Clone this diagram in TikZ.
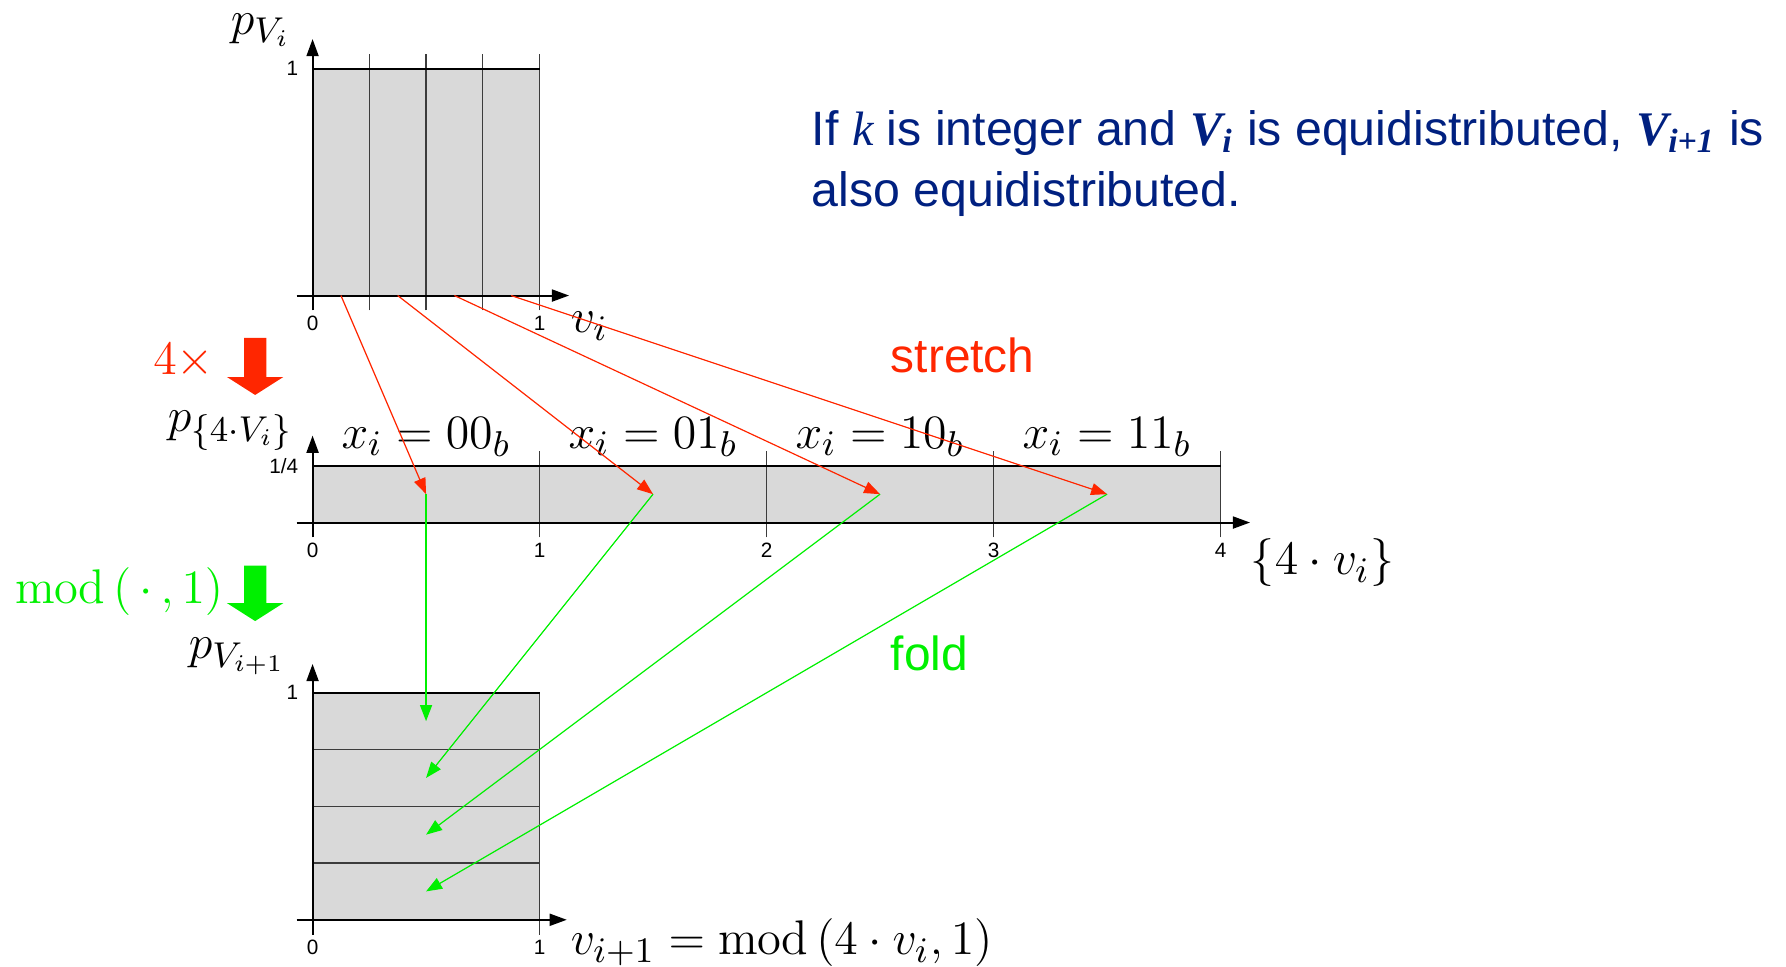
\documentclass[tikz,border=0pt]{standalone}
\usepackage{amsmath}
\usepackage{fontspec}
\setsansfont{Liberation Sans}
\newfontfamily\timesfont{Liberation Serif}
\usepackage{tikz}
\usetikzlibrary{arrows.meta}
\definecolor{stretchRed}{RGB}{255,38,0}
\definecolor{foldGreen}{RGB}{0,240,0}
\definecolor{noteBlue}{RGB}{0,32,128}
\definecolor{boxGray}{RGB}{217,217,217}
\definecolor{sepGray}{RGB}{60,60,60}
\tikzset{
  edgeline/.style={line width=0.5pt, draw=black},
  sepline/.style={line width=0.3pt, draw=sepGray},
  axis/.style={line width=0.5pt, -{Triangle[length=4.3pt,width=3pt]}},
  ticklabel/.style={font=\sffamily\fontsize{5.2}{6}\selectfont, inner sep=0pt},
  mathlabel/.style={font=\fontsize{12.2}{14}\selectfont, inner sep=0pt},
  flowlabel/.style={font=\sffamily\fontsize{12}{15}\selectfont, inner sep=0pt},
  note/.style={font=\sffamily\fontsize{12.1}{15.3}\selectfont, text=noteBlue, inner sep=0pt, align=left},
  stretchflow/.style={-{Triangle[length=4pt,width=3pt]}, line width=0.3pt, draw=stretchRed, fill=stretchRed},
  foldflow/.style={-{Triangle[length=4pt,width=3pt]}, line width=0.3pt, draw=foldGreen, fill=foldGreen}
}
\begin{document}
\begin{tikzpicture}[x=2cm, y=2cm]
        \useasboundingbox (-1.377,1.302) rectangle (6.491,-2.958);
        \fill[boxGray] (0,0) rectangle (1,1);
        \fill[boxGray] (0,-1) rectangle (4,-0.75);
        \fill[boxGray] (0,-2.75) rectangle (1,-1.75);
        \draw[sepline] (0.25,-0.065) -- (0.25,1.065);
        \draw[sepline] (0.5,-0.065) -- (0.5,1.065);
        \draw[sepline] (0.75,-0.065) -- (0.75,1.065);
        \draw[sepline] (1,-0.065) -- (1,1.065);
        \draw[sepline] (1,-1.065) -- (1,-0.685);
        \draw[sepline] (2,-1.065) -- (2,-0.685);
        \draw[sepline] (3,-1.065) -- (3,-0.685);
        \draw[sepline] (4,-1.065) -- (4,-0.685);
        \draw[sepline] (0,-2.5) -- (1,-2.5);
        \draw[sepline] (0,-2.25) -- (1,-2.25);
        \draw[sepline] (0,-2) -- (1,-2);
        \draw[sepline] (1,-2.815) -- (1,-1.75);
        \draw[edgeline] (0,1) -- (1,1);
        \draw[edgeline] (0,-0.75) -- (4,-0.75);
        \draw[edgeline] (0,-1.75) -- (1,-1.75);
        \draw[axis] (-0.07,0) -- (1.13,0);
        \draw[axis] (0,-0.065) -- (0,1.13);
        \draw[axis] (-0.07,-1) -- (4.13,-1);
        \draw[axis] (0,-1.065) -- (0,-0.617);
        \draw[axis] (-0.07,-2.75) -- (1.12,-2.75);
        \draw[axis] (0,-2.815) -- (0,-1.623);
        \node[ticklabel] (topZero) at (0,-0.123) {0};
        \node[ticklabel] (topOne) at (1,-0.123) {1};
        \node[ticklabel, anchor=east] (topMax) at (-0.06,1) {1};
        \node[ticklabel] (midZero) at (0,-1.123) {0};
        \node[ticklabel] (midOne) at (1,-1.123) {1};
        \node[ticklabel] (midTwo) at (2,-1.123) {2};
        \node[ticklabel] (midThree) at (3,-1.123) {3};
        \node[ticklabel] (midFour) at (4,-1.123) {4};
        \node[ticklabel, anchor=east] (midMax) at (-0.06,-0.75) {1/4};
        \node[ticklabel] (botZero) at (0,-2.873) {0};
        \node[ticklabel] (botOne) at (1,-2.873) {1};
        \node[ticklabel, anchor=east] (botMax) at (-0.06,-1.75) {1};
        \node[mathlabel, anchor=base west] (pTop) at (-0.363,1.152) {$p_{V_i}$};
        \node[mathlabel, anchor=base west] (pMid) at (-0.641,-0.597) {$p_{\{4\cdot V_i\}}$};
        \node[mathlabel, anchor=base west] (pBot) at (-0.548,-1.601) {$p_{V_{i+1}}$};
        \node[mathlabel, anchor=base west] (vTop) at (1.134,-0.165) {$v_i$};
        \node[mathlabel, anchor=base west] (vMid) at (4.13,-1.231) {$\{4\cdot v_i\}$};
        \node[mathlabel, anchor=base west] (vBot) at (1.134,-2.905) {$v_{i+1}=\operatorname{mod}\left(4\cdot v_i,1\right)$};
        \node[mathlabel, anchor=base] (cellA) at (0.5,-0.672) {$x_i=00_b$};
        \node[mathlabel, anchor=base] (cellB) at (1.5,-0.672) {$x_i=01_b$};
        \node[mathlabel, anchor=base] (cellC) at (2.5,-0.672) {$x_i=10_b$};
        \node[mathlabel, anchor=base] (cellD) at (3.5,-0.672) {$x_i=11_b$};
        \coordinate (src0) at (0.125,0);
        \coordinate (src1) at (0.375,0);
        \coordinate (src2) at (0.625,0);
        \coordinate (src3) at (0.875,0);
        \coordinate (mid0) at (0.5,-0.875);
        \coordinate (mid1) at (1.5,-0.875);
        \coordinate (mid2) at (2.5,-0.875);
        \coordinate (mid3) at (3.5,-0.875);
        \coordinate (dst0) at (0.5,-1.875);
        \coordinate (dst1) at (0.5,-2.125);
        \coordinate (dst2) at (0.5,-2.375);
        \coordinate (dst3) at (0.5,-2.625);
        \draw[foldflow] (mid0) -- (dst0);
        \draw[foldflow] (mid1) -- (dst1);
        \draw[foldflow] (mid2) -- (dst2);
        \draw[foldflow] (mid3) -- (dst3);
        \draw[stretchflow] (src0) -- (mid0);
        \draw[stretchflow] (src1) -- (mid1);
        \draw[stretchflow] (src2) -- (mid2);
        \draw[stretchflow] (src3) -- (mid3);
        \coordinate (scaleArrow) at (-0.253,-0.187);
        \coordinate (modArrow) at (-0.253,-1.19);
        \fill[stretchRed] (scaleArrow) ++(-0.048,0) -- ++(0.097,0) -- ++(0,-0.172) -- ++(0.075,0) -- ++(-0.124,-0.079) -- ++(-0.124,0.079) -- ++(0.075,0) -- cycle;
        \fill[foldGreen] (modArrow) ++(-0.048,0) -- ++(0.097,0) -- ++(0,-0.165) -- ++(0.075,0) -- ++(-0.124,-0.079) -- ++(-0.124,0.079) -- ++(0.075,0) -- cycle;
        \node[mathlabel, text=stretchRed, anchor=base east] (scaleLabel) at (-0.43,-0.346) {$4\times$};
        \node[mathlabel, text=foldGreen, anchor=base east] (modLabel) at (-0.39,-1.355) {$\operatorname{mod}\left(\,\cdot\,,1\right)$};
        \node[flowlabel, text=stretchRed, anchor=base west] (stretchLabel) at (2.544,-0.339) {stretch};
        \node[flowlabel, text=foldGreen, anchor=base west] (foldLabel) at (2.544,-1.65) {fold};
        \node[note, anchor=base west] (claim) at (2.196,0.394) {If {\timesfont\itshape k} is integer and {\timesfont\bfseries\itshape V\textsubscript{i}} is equidistributed, {\timesfont\bfseries\itshape V\textsubscript{i+1}} is\\also equidistributed.};
      \end{tikzpicture}
\end{document}
